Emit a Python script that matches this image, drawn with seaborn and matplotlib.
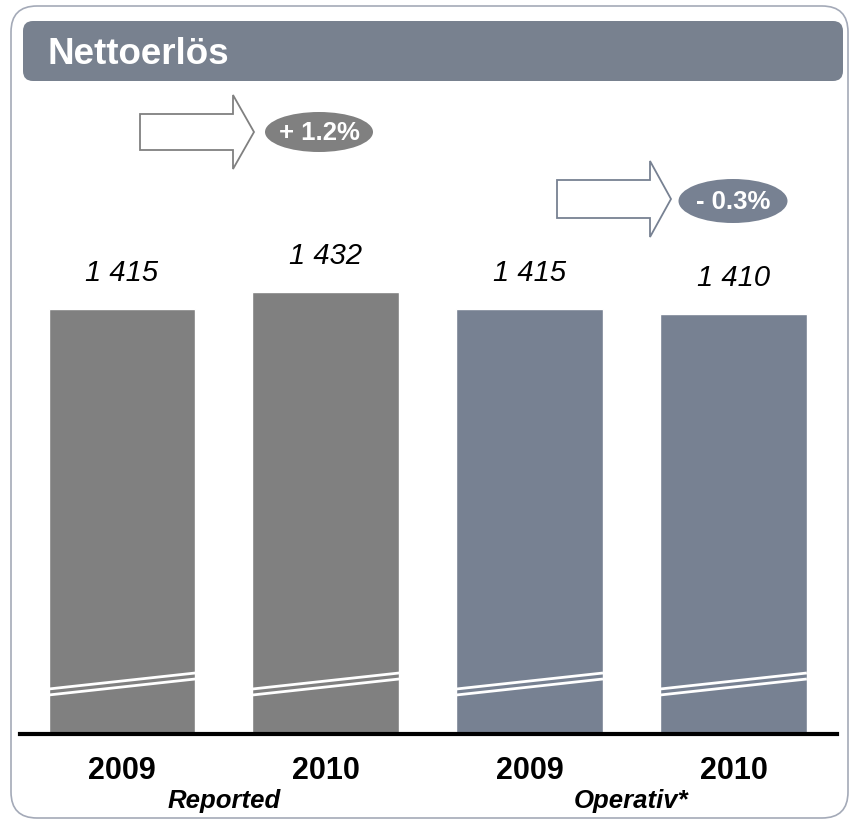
import matplotlib
matplotlib.use("Agg")
import matplotlib.pyplot as plt
from matplotlib.patches import FancyBboxPatch, Polygon, Ellipse
import seaborn as sns
import pandas as pd

# ---- data ----
bar_ids = ["R2009", "R2010", "O2009", "O2010"]
years = ["2009", "2010", "2009", "2010"]
groups = ["Reported", "Reported", "Operativ*", "Operativ*"]
values = [1415, 1432, 1415, 1410]
value_labels = ["1 415", "1 432", "1 415", "1 410"]
group_names = ["Reported", "Operativ*"]
changes = ["+ 1.2%", "- 0.3%"]
title = "Nettoerlös"

GREY = "#808080"
SLATE = "#778192"
HEADER = "#78818F"
FRAME = "#A4AAB8"

sns.set_theme(style="white")
plt.rcParams["font.family"] = ["Liberation Sans", "DejaVu Sans"]

W, H = 850, 819
fig = plt.figure(figsize=(W / 100, H / 100), dpi=100)
fig.patch.set_facecolor("white")

# overlay axes in pixel coordinates (y downward)
bg = fig.add_axes([0, 0, 1, 1], zorder=0)
bg.set_xlim(0, W)
bg.set_ylim(H, 0)
bg.axis("off")

# outer frame
bg.add_patch(FancyBboxPatch((11, 6), 837, 812,
                            boxstyle="round,pad=0,rounding_size=26",
                            fc="white", ec=FRAME, lw=1.2))
# header bar
bg.add_patch(FancyBboxPatch((23, 21), 820, 60,
                            boxstyle="round,pad=0,rounding_size=10",
                            fc=HEADER, ec="none"))
bg.text(48, 54, title, color="white", fontsize=26.5, fontweight="bold",
        va="center", ha="left")

# bar axes: baseline at y=734 px, x from 20 to 837 px
base_px, top_px = 734, 150
ax = fig.add_axes([20 / W, (H - base_px) / H, (837 - 20) / W, (base_px - top_px) / H],
                  zorder=1)
ax.patch.set_alpha(0)

df = pd.DataFrame({"bar": bar_ids, "value": values, "group": groups})
sns.barplot(data=df, x="bar", y="value", hue="group", dodge=False,
            palette={"Reported": GREY, "Operativ*": SLATE},
            width=0.72, saturation=1, legend=False, ax=ax)

y0 = 990
ax.set_ylim(y0, y0 + (base_px - top_px))
ax.set_xlim(-0.5, 3.508)
ax.set_xlabel("")
ax.set_ylabel("")
ax.set_yticks([])
ax.set_xticks(range(len(years)))
ax.set_xticklabels(years, fontsize=22, fontweight="bold", color="black")
ax.tick_params(axis="x", length=0, pad=16)
for s in ["top", "left", "right"]:
    ax.spines[s].set_visible(False)
ax.spines["bottom"].set_color("black")
ax.spines["bottom"].set_linewidth(3)
ax.spines["bottom"].set_zorder(5)

# value labels and break marks
for patch, lab in zip(ax.patches, value_labels):
    x0 = patch.get_x()
    w = patch.get_width()
    top = patch.get_height() + patch.get_y()
    ax.annotate(lab, xy=(x0 + w / 2, top), xytext=(0, 20), textcoords="offset points",
                ha="center", va="baseline", fontsize=21, fontstyle="italic", color="black")
    for off in (0, 6):
        ax.plot([x0, x0 + w], [y0 + 45 - off, y0 + 61 - off], color="white", lw=2.0,
                solid_capstyle="butt", zorder=4)

# group labels
for gi, name in enumerate(group_names):
    ax.annotate(name, xy=(gi * 2 + 0.5, 0), xycoords=("data", "axes fraction"),
                xytext=(0, -53), textcoords="offset points", ha="center", va="baseline",
                fontsize=18.5, fontweight="bold", fontstyle="italic", color="black",
                annotation_clip=False)


# arrows and change ellipses (pixel coords on overlay)
def block_arrow(x_left, x_base, x_tip, y_mid, body_half, head_half, ec):
    pts = [(x_left, y_mid - body_half), (x_base, y_mid - body_half),
           (x_base, y_mid - head_half), (x_tip, y_mid), (x_base, y_mid + head_half),
           (x_base, y_mid + body_half), (x_left, y_mid + body_half)]
    bg.add_patch(Polygon(pts, closed=True, fc="white", ec=ec, lw=1.3, zorder=3))


block_arrow(140, 233, 254, 132, 18, 37, GREY)
bg.add_patch(Ellipse((319, 132), 108, 40, fc=GREY, ec="none", zorder=3))
bg.text(319, 133, changes[0], color="white", fontsize=18.5, fontweight="bold",
        ha="center", va="center", zorder=4)

block_arrow(557, 650, 671, 199, 19, 38, SLATE)
bg.add_patch(Ellipse((733, 201), 109, 44, fc=SLATE, ec="none", zorder=3))
bg.text(733, 202, changes[1], color="white", fontsize=18.5, fontweight="bold",
        ha="center", va="center", zorder=4)

fig.savefig("out.png", dpi=100)
